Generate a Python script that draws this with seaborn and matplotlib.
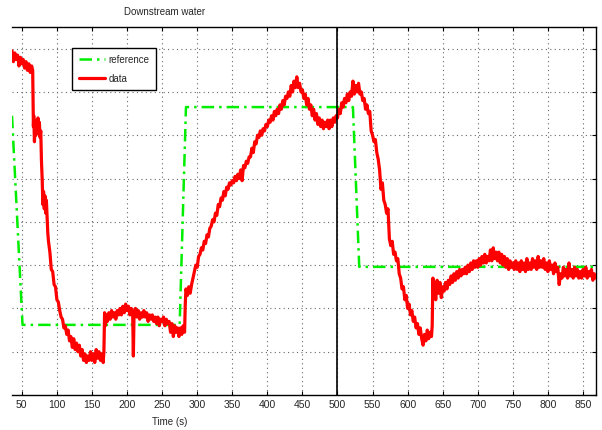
import numpy as np
import pandas as pd
import matplotlib
matplotlib.use("Agg")
import matplotlib.pyplot as plt
import seaborn as sns
from matplotlib import font_manager

title_text = "Downstream water"
x_label = "Time (s)"
x_ticks = [50, 100, 150, 200, 250, 300, 350, 400, 450, 500, 550, 600, 650, 700, 750, 800, 850]
y_grid = [0, 1, 2, 3, 4, 5, 6, 7, 8]
legend_labels = ["reference", "data"]

ref_time = [36, 51, 275, 284, 522, 531, 868]
ref_value = [6.45, 1.62, 1.62, 6.65, 6.65, 2.96, 2.96]

data_time = [
    36, 38, 40, 42, 44, 46, 48, 50, 52, 54,
    56, 58, 60, 62, 64, 65.5, 66, 66.5, 67, 68,
    69, 70, 71, 72, 73, 74, 75, 76, 77, 78,
    79, 80, 81, 82, 83, 84, 85, 86, 87, 88,
    90, 92, 94, 96, 98, 100, 102, 104, 106, 108,
    110, 112, 114, 116, 118, 120, 122, 124, 126, 128,
    130, 132, 134, 136, 138, 140, 142, 144, 146, 148,
    150, 152, 154, 156, 158, 160, 162, 164, 166, 167,
    168, 169, 170, 172, 174, 176, 178, 180, 182, 184,
    186, 188, 190, 192, 194, 196, 198, 200, 202, 204,
    206, 208, 209, 210, 212, 214, 216, 218, 220, 222,
    224, 226, 228, 230, 232, 234, 236, 238, 240, 242,
    244, 246, 248, 250, 252, 254, 256, 258, 260, 262,
    264, 266, 268, 270, 272, 274, 276, 278, 280, 282,
    283, 284, 286, 288, 290, 292, 294, 296, 298, 300,
    302, 304, 306, 308, 310, 312, 314, 316, 318, 320,
    322, 324, 326, 328, 330, 332, 334, 336, 338, 340,
    342, 344, 346, 348, 350, 352, 354, 356, 358, 360,
    362, 364, 366, 368, 370, 372, 374, 376, 378, 380,
    382, 384, 386, 388, 390, 392, 394, 396, 398, 400,
    402, 404, 406, 408, 410, 412, 414, 416, 418, 420,
    422, 424, 426, 428, 430, 432, 434, 436, 438, 440,
    442, 444, 446, 448, 450, 452, 454, 456, 458, 460,
    462, 464, 466, 468, 470, 472, 474, 476, 478, 480,
    482, 484, 486, 488, 490, 492, 494, 496, 498, 500,
    502, 504, 506, 508, 510, 512, 514, 516, 518, 520,
    522, 524, 526, 528, 530, 532, 534, 536, 538, 540,
    542, 544, 546, 548, 550, 552, 554, 556, 558, 560,
    562, 564, 566, 568, 570, 572, 574, 576, 578, 580,
    582, 584, 586, 588, 590, 592, 594, 596, 598, 600,
    602, 604, 606, 608, 610, 612, 614, 616, 618, 620,
    622, 624, 626, 628, 630, 632, 634, 635, 636, 637,
    638, 640, 642, 644, 646, 648, 650, 652, 654, 656,
    658, 660, 662, 664, 666, 668, 670, 672, 674, 676,
    678, 680, 682, 684, 686, 688, 690, 692, 694, 696,
    698, 700, 702, 704, 706, 708, 710, 712, 714, 716,
    718, 720, 722, 724, 726, 728, 730, 732, 734, 736,
    738, 740, 742, 744, 746, 748, 750, 752, 754, 756,
    758, 760, 762, 764, 766, 768, 770, 772, 774, 776,
    778, 780, 782, 784, 786, 788, 790, 792, 794, 796,
    798, 800, 802, 804, 806, 808, 810, 812, 814, 816,
    818, 820, 822, 824, 826, 828, 830, 832, 834, 836,
    838, 840, 842, 844, 846, 848, 850, 852, 854, 856,
    858, 860, 862, 864, 866, 868,
]
data_value = [
    7.95, 7.7, 7.9, 7.75, 7.85, 7.6, 7.8, 7.65, 7.75, 7.55,
    7.7, 7.5, 7.65, 7.45, 7.6, 7.5, 6.9, 6.2, 6.45, 5.85,
    6.3, 6.0, 6.35, 6.05, 6.4, 6.1, 6.3, 5.95, 6.1, 5.4,
    5.0, 4.4, 4.7, 4.3, 4.6, 4.2, 4.5, 4.1, 3.75, 3.55,
    3.3, 2.9, 2.85, 2.55, 2.5, 2.2, 2.15, 1.95, 1.8, 1.75,
    1.55, 1.6, 1.4, 1.5, 1.25, 1.35, 1.1, 1.3, 1.05, 1.2,
    1.0, 1.15, 0.9, 1.05, 0.8, 0.95, 0.75, 0.9, 0.8, 1.0,
    0.8, 0.95, 0.75, 1.05, 0.85, 1.0, 0.8, 0.95, 0.75, 1.0,
    1.9, 1.6, 1.85, 1.7, 1.9, 1.75, 1.95, 1.8, 1.9, 1.75,
    1.95, 1.85, 2.0, 1.85, 2.05, 1.9, 2.1, 1.95, 2.05, 1.85,
    2.0, 1.9, 0.9, 1.9, 2.0, 1.8, 1.95, 1.75, 1.9, 1.8,
    1.95, 1.8, 1.9, 1.7, 1.85, 1.75, 1.85, 1.7, 1.8, 1.65,
    1.8, 1.6, 1.75, 1.7, 1.8, 1.6, 1.75, 1.65, 1.7, 1.45,
    1.65, 1.35, 1.6, 1.45, 1.55, 1.35, 1.55, 1.4, 1.6, 1.45,
    2.1, 2.45, 2.3, 2.5, 2.35, 2.55, 2.7, 2.85, 3.0, 2.95,
    3.2, 3.25, 3.4, 3.35, 3.55, 3.5, 3.7, 3.65, 3.85, 3.9,
    4.05, 4.0, 4.2, 4.15, 4.4, 4.35, 4.55, 4.5, 4.7, 4.6,
    4.8, 4.75, 4.9, 4.85, 4.95, 4.9, 5.05, 4.95, 5.1, 5.0,
    5.2, 4.95, 5.3, 5.25, 5.4, 5.35, 5.5, 5.5, 5.7, 5.6,
    5.85, 5.8, 6.0, 5.95, 6.1, 6.0, 6.15, 6.1, 6.25, 6.2,
    6.35, 6.3, 6.45, 6.35, 6.55, 6.45, 6.6, 6.5, 6.7, 6.6,
    6.8, 6.7, 6.9, 6.85, 7.0, 6.9, 7.15, 7.0, 7.25, 7.1,
    7.35, 7.1, 7.2, 7.0, 7.05, 6.85, 6.95, 6.7, 6.85, 6.6,
    6.7, 6.45, 6.6, 6.35, 6.5, 6.25, 6.4, 6.2, 6.35, 6.15,
    6.3, 6.2, 6.35, 6.15, 6.35, 6.2, 6.4, 6.3, 6.45, 6.4,
    6.6, 6.5, 6.75, 6.65, 6.85, 6.75, 6.95, 6.8, 7.0, 6.9,
    7.25, 6.95, 7.15, 7.0, 7.2, 6.95, 7.0, 6.8, 6.85, 6.6,
    6.7, 6.5, 6.55, 6.1, 6.0, 5.85, 5.9, 5.6, 5.45, 5.2,
    4.75, 4.9, 4.5, 4.4, 4.2, 4.3, 3.6, 3.45, 3.55, 3.25,
    3.3, 3.1, 3.15, 2.8, 2.7, 2.45, 2.5, 2.2, 2.3, 2.0,
    2.1, 1.85, 1.95, 1.7, 1.8, 1.55, 1.65, 1.4, 1.55, 1.3,
    1.15, 1.4, 1.25, 1.5, 1.3, 1.45, 1.35, 1.6, 2.7, 2.3,
    2.6, 2.2, 2.65, 2.35, 2.6, 2.25, 2.5, 2.4, 2.6, 2.45,
    2.65, 2.55, 2.75, 2.6, 2.8, 2.65, 2.85, 2.7, 2.9, 2.75,
    2.9, 2.8, 2.95, 2.8, 3.0, 2.85, 3.05, 2.9, 3.1, 2.95,
    3.1, 2.95, 3.15, 3.0, 3.2, 3.05, 3.25, 3.05, 3.2, 3.1,
    3.35, 3.1, 3.4, 3.15, 3.3, 3.1, 3.3, 3.05, 3.25, 3.0,
    3.2, 2.95, 3.15, 2.9, 3.1, 2.95, 3.05, 2.9, 3.1, 2.9,
    3.05, 2.85, 3.1, 2.9, 3.05, 2.85, 3.15, 2.9, 3.05, 2.9,
    3.15, 2.95, 3.1, 2.9, 3.2, 2.95, 3.1, 2.95, 3.15, 2.9,
    3.05, 2.85, 3.1, 2.9, 3.0, 2.8, 3.05, 2.85, 2.95, 2.55,
    2.8, 2.7, 2.95, 2.75, 2.9, 2.7, 3.05, 2.75, 2.9, 2.7,
    2.95, 2.75, 2.9, 2.7, 2.85, 2.7, 2.9, 2.75, 2.95, 2.7,
    2.85, 2.75, 2.9, 2.65, 2.8, 2.7,
]
assert len(data_time) == len(data_value), (len(data_time), len(data_value))

sns.set_theme(style="white")
installed = {f.name for f in font_manager.fontManager.ttflist}
families = [f for f in ["Liberation Sans Narrow", "Liberation Sans", "DejaVu Sans"] if f in installed]
plt.rcParams["font.family"] = families

fig = plt.figure(figsize=(6.02, 4.30), dpi=100)
ax = fig.add_axes([12 / 602, 35 / 430, 584 / 602, 368 / 430])

ref_df = pd.DataFrame({"t": ref_time, "v": ref_value})
data_df = pd.DataFrame({"t": data_time, "v": data_value})

sns.lineplot(data=ref_df, x="t", y="v", ax=ax, color="#00ee00", lw=1.8,
             linestyle=(0, (5, 2, 1, 2)), estimator=None, sort=False,
             label=legend_labels[0], zorder=3)
sns.lineplot(data=data_df, x="t", y="v", ax=ax, color="#ff0000", lw=2.3,
             estimator=None, sort=False, label=legend_labels[1], zorder=4)

ax.axvline(500, color="black", lw=1.2, zorder=5)

ax.set_xlim(36, 868.5)
ax.set_ylim(0, 8.5)
ax.set_xticks(x_ticks)
ax.set_xticklabels([str(v) for v in x_ticks], fontsize=7.5)
ax.set_yticks(y_grid)
ax.set_yticklabels([])
ax.grid(True, which="major", color="#666666", linestyle=(0, (1, 3)), lw=0.8)
ax.tick_params(axis="both", direction="in", length=3, width=0.8, color="black",
               top=True, right=True, left=False, bottom=True, pad=3.5)
for side in ["top", "bottom", "right"]:
    ax.spines[side].set_visible(True)
    ax.spines[side].set_color("black")
    ax.spines[side].set_linewidth(1.0)
ax.spines["left"].set_visible(False)

ax.set_xlabel("")
ax.set_ylabel("")
ax.text(0.262, 1.028, title_text, transform=ax.transAxes, ha="center", va="bottom", fontsize=7)
ax.text(0.27, -0.06, x_label, transform=ax.transAxes, ha="center", va="top", fontsize=7)

leg = ax.legend(loc="upper left", bbox_to_anchor=(0.103, 0.943), fontsize=7,
                frameon=True, fancybox=False, borderpad=0.7, handlelength=2.7,
                labelspacing=0.9, handletextpad=0.35, borderaxespad=0)
leg.get_frame().set_edgecolor("black")
leg.get_frame().set_linewidth(1.0)
leg.get_frame().set_alpha(1)

fig.savefig("out.png", dpi=100)
